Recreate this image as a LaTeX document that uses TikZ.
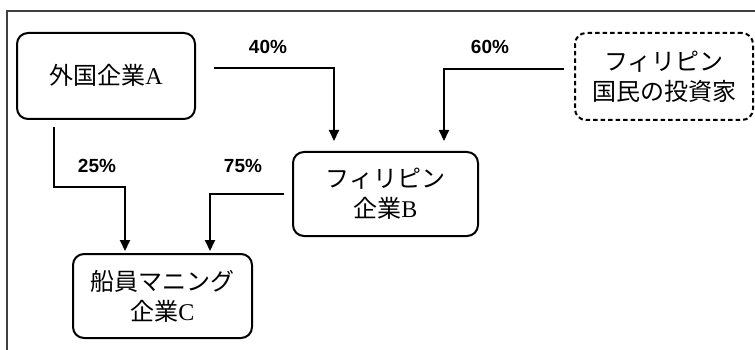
\documentclass[tikz,border=0pt]{standalone}
\usepackage{fontspec}
\setmainfont{Liberation Serif}
\setsansfont{Liberation Sans}
\newfontfamily\jp{Noto Sans CJK JP}
\usetikzlibrary{arrows.meta,calc}
\tikzset{
  box/.style={draw=black, line width=2pt, rounded corners=11pt, align=center,
    font=\fontsize{24}{30}\selectfont, inner sep=0pt},
  dbox/.style={box, dash pattern=on 4.5pt off 3pt},
  link/.style={line width=2pt, -{Triangle[width=10pt,length=11pt]}},
  pct/.style={font=\sffamily\bfseries\fontsize{19}{22}\selectfont, inner sep=0pt},
  frame/.style={draw=black!75, line width=1.2pt}
}
\begin{document}
\begin{tikzpicture}[x=1pt,y=-1pt]
\useasboundingbox (0,0) rectangle (755,350);
\draw[frame] (755,11) -- (7,11) -- (7,350);

\node[box, minimum width=178pt, minimum height=86pt] (A) at (106,76) {\raisebox{3pt}{{\jp 外国企業}A}};
\node[box, minimum width=185pt, minimum height=84pt] (B) at (385.5,194) {{\jp フィリピン}\\{\jp 企業}B};
\node[box, minimum width=179pt, minimum height=84pt] (C) at (162.5,296) {{\jp 船員マニング}\\{\jp 企業}C};
\node[dbox, minimum width=178pt, minimum height=87pt] (D) at (664,76.5) {{\jp フィリピン}\\{\jp 国民の投資家}};

\coordinate (a1) at ($(A.east)+(18,-8)$);
\coordinate (b1) at ($(B.north west)+(42,-10)$);
\draw[link] (a1) -| (b1);

\coordinate (d1) at ($(D.west)+(-10,-7.5)$);
\coordinate (b2) at ($(B.north east)+(-35,-10)$);
\draw[link] (d1) -| (b2);

\coordinate (a2) at ($(A.south west)+(38,7)$);
\coordinate (c1) at ($(C.north west)+(53,-2)$);
\draw[link] (a2) |- ($(c1)+(0,-64)$) -- (c1);

\coordinate (b3) at ($(B.west)+(-8,0)$);
\coordinate (c2) at ($(C.north west)+(138,-2)$);
\draw[link] (b3) -| (c2);

\node[pct] (p40) at (268,47) {40\%};
\node[pct] (p60) at (490,47) {60\%};
\node[pct] (p25) at (97,166) {25\%};
\node[pct] (p75) at (243,166) {75\%};
\end{tikzpicture}
\end{document}
